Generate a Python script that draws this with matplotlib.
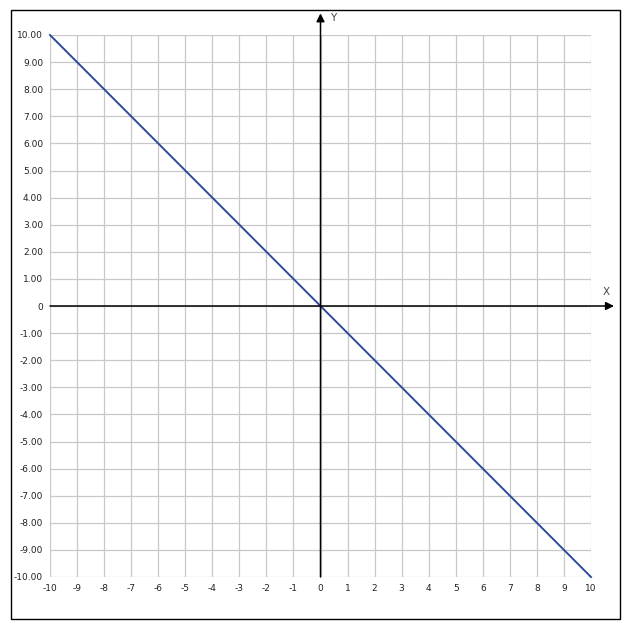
import matplotlib.pyplot as plt
import numpy as np
from matplotlib.patches import Rectangle

# donnees de la droite y = -x
x_vals = [-10, 10]
y_vals = [10, -10]
x_ticks = list(range(-10, 11))
y_ticks = list(range(-10, 11))
y_labels = ["0" if v == 0 else "%.2f" % v for v in y_ticks]

fig = plt.figure(figsize=(6.33, 6.28), dpi=100)
W, H = 633, 628
ax = fig.add_axes([50 / W, (H - 577) / H, 541 / W, 542 / H])

ax.set_xlim(-10, 10)
ax.set_ylim(-10, 10)
ax.set_xticks(x_ticks)
ax.set_yticks(y_ticks)
ax.set_xticklabels([str(v) for v in x_ticks])
ax.set_yticklabels(y_labels)
ax.tick_params(length=0, labelsize=6.5, labelcolor="#222222", pad=5)
ax.grid(True, color="#c8c8c8", linewidth=0.9)
for s in ax.spines.values():
    s.set_visible(False)

# axes avec fleches
ax.annotate("", xy=(10.85, 0), xytext=(-10, 0),
            arrowprops=dict(arrowstyle="-|>", color="black", lw=1.1,
                            mutation_scale=12, shrinkA=0, shrinkB=0),
            annotation_clip=False)
ax.annotate("", xy=(0, 10.8), xytext=(0, -10),
            arrowprops=dict(arrowstyle="-|>", color="black", lw=1.1,
                            mutation_scale=12, shrinkA=0, shrinkB=0),
            annotation_clip=False)
ax.text(10.57, 0.5, "X", fontsize=7.5, color="#444444", ha="center", va="center", clip_on=False)
ax.text(0.45, 10.62, "Y", fontsize=7.5, color="#444444", ha="center", va="center", clip_on=False)

ax.plot(x_vals, y_vals, color="#2e4a9a", linewidth=1.4, clip_on=False)

fig.patches.append(Rectangle((11 / W, (H - 619) / H), 609 / W, 609 / H,
                             transform=fig.transFigure, fill=False,
                             edgecolor="black", linewidth=1.0))

fig.savefig("out.png", dpi=100)
